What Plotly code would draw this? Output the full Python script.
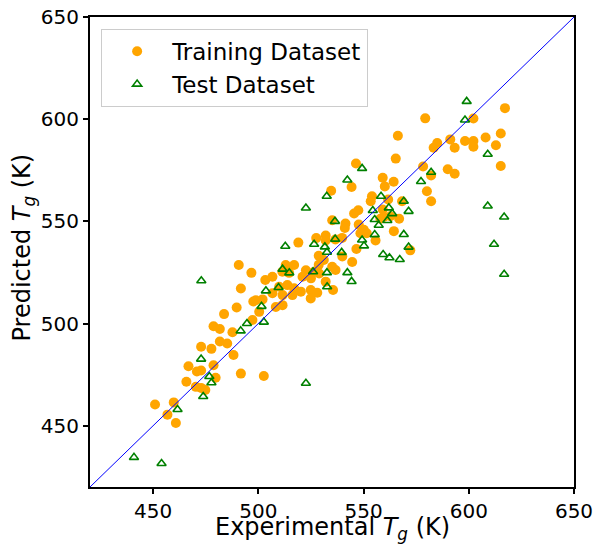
import plotly.graph_objects as go

# Glass transition temperatures (K): experimental vs. model prediction
train_exp = [
    489.7, 497.6, 483.7, 478.7, 481.7, 487.7, 472.8, 477.7, 481.7, 485.2,
    488.2, 478.7, 466.8, 470.8, 472.8, 491.7, 479.7, 465.8, 470.3, 472.8,
    474.8, 459.8, 450.9, 456.8, 460.8,
    527.5, 532.0, 532.0, 519.0, 548.5, 551.5, 555.7, 546.6, 539.9, 544.6,
    490.7, 496.7, 513.0, 517.0, 511.4, 514.6, 522.6, 526.5, 521.0, 525.0,
    528.9, 535.1, 536.7, 503.3, 506.7, 532.0, 509.9, 513.8, 517.0, 520.2,
    516.2, 524.9, 528.0, 524.9, 511.5, 506.7, 535.5, 491.7, 498.8, 502.0,
    508.3, 511.5, 500.4, 497.2, 502.6,
    566.3, 585.0, 583.3, 565.3, 546.4, 578.3, 590.0, 582.1, 559.1, 564.3,
    544.3, 560.1, 580.1, 534.6, 582.1, 554.0, 553.4, 561.7, 568.3, 547.5,
    545.5, 559.1, 559.6, 558.0, 562.7, 566.9, 535.1, 541.4, 541.1, 547.7,
    550.1, 564.4, 536.6, 539.8, 572.2, 528.7, 531.1, 528.7,
    617.2, 579.3, 602.2, 615.2, 608.0, 598.2, 602.2, 602.2, 612.9, 591.2,
    593.3, 615.2, 593.3,
]
train_pred = [
    507.8, 510.8, 504.6, 498.7, 497.3, 495.7, 488.6, 487.6, 491.2, 490.2,
    484.6, 479.6, 479.1, 476.5, 477.0, 475.5, 473.5, 471.5, 469.0, 468.5,
    467.5, 461.4, 460.4, 455.4, 451.3,
    541.8, 543.1, 540.6, 539.6, 544.2, 544.2, 540.6, 536.5, 532.8, 530.1,
    528.6, 524.8, 528.6, 528.6, 525.3, 524.8, 526.1, 525.3, 522.9, 522.1,
    524.5, 527.8, 526.2, 521.3, 522.9, 520.5, 518.0, 518.8, 517.2, 515.6,
    513.9, 516.4, 515.1, 512.3, 513.9, 514.8, 516.4, 517.1, 511.4, 511.8,
    508.1, 509.0, 505.7, 501.7, 474.3,
    591.9, 588.3, 586.0, 580.7, 578.3, 576.8, 575.5, 572.4, 571.3, 569.4,
    566.8, 567.1, 564.7, 565.0, 559.8, 562.3, 559.8, 560.7, 559.8, 555.4,
    553.8, 555.8, 552.2, 551.3, 552.5, 551.3, 550.5, 548.9, 546.8, 548.4,
    545.9, 545.2, 541.1, 541.9, 535.8, 533.2, 531.1, 528.7,
    605.4, 600.4, 600.3, 593.0, 591.0, 589.3, 589.3, 586.5, 587.2, 590.1,
    586.0, 577.1, 573.3,
]

test_exp = [
    494.6, 491.6, 472.8, 476.7, 477.7, 473.8, 461.6, 440.9, 454.0, 472.9,
    512.8, 526.5, 531.6, 532.6, 536.5, 539.6, 549.3, 550.2, 555.3, 511.5,
    514.7, 526.0, 532.6, 542.3, 544.3, 532.7, 509.6, 503.6, 501.5, 502.6,
    522.6, 549.3, 542.3, 577.3, 582.1, 532.5, 522.6, 558.3, 569.1, 571.4,
    554.4, 562.0, 563.6, 555.3, 557.2, 561.3, 536.4, 569.1, 571.4, 559.3,
    562.3, 567.2, 599.0, 598.2, 609.0, 609.0, 616.8, 612.0, 616.8,
]
test_pred = [
    500.0, 496.4, 482.6, 474.1, 471.0, 464.3, 457.9, 434.5, 431.5, 520.9,
    537.8, 538.8, 537.5, 534.9, 541.3, 534.8, 540.9, 538.0, 543.5, 526.6,
    524.8, 525.3, 524.9, 524.9, 520.6, 518.0, 517.6, 516.0, 508.4, 500.7,
    470.8, 575.9, 570.2, 569.5, 574.0, 562.3, 556.5, 562.3, 559.8, 554.9,
    555.3, 556.6, 553.8, 550.9, 548.1, 550.4, 550.0, 543.6, 537.4, 533.8,
    532.2, 531.3, 608.7, 599.6, 582.8, 557.5, 552.1, 538.8, 524.1,
]

axis_range = [420, 650]
tick_vals = [450, 500, 550, 600, 650]
x_title = "Experimental <i>T<sub>g</sub></i> (K)"
y_title = "Predicted <i>T<sub>g</sub></i> (K)"

FONT = "DejaVu Sans"

fig = go.Figure()

fig.add_trace(go.Scatter(
    x=train_exp, y=train_pred, mode="markers", name="Training Dataset",
    marker=dict(symbol="circle", size=10, color="#FFA500", line=dict(width=0)),
))
fig.add_trace(go.Scatter(
    x=test_exp, y=test_pred, mode="markers", name="Test Dataset",
    marker=dict(symbol="triangle-up-open", size=8, color="#008000",
                line=dict(width=1.6, color="#008000")),
))
# parity line y = x
fig.add_trace(go.Scatter(
    x=axis_range, y=axis_range, mode="lines", showlegend=False,
    line=dict(color="#0000FF", width=1), hoverinfo="skip",
))

axis_common = dict(
    range=axis_range, tickvals=tick_vals, showgrid=False, zeroline=False,
    showline=True, mirror=True, linecolor="black", linewidth=2,
    ticks="outside", ticklen=5, tickwidth=1.5, tickcolor="black",
    tickfont=dict(family=FONT, size=20, color="black"),
    automargin=False,
)
fig.update_xaxes(**axis_common)
fig.update_yaxes(**axis_common)

# axis titles placed as paper-anchored annotations for exact spacing
title_font = dict(family=FONT, size=24, color="black")
fig.add_annotation(
    text=x_title, xref="paper", yref="paper", x=0.5, y=-0.05,
    xanchor="center", yanchor="top", showarrow=False, font=title_font,
)
fig.add_annotation(
    text=y_title, xref="paper", yref="paper", x=-0.138, y=0.51,
    xanchor="center", yanchor="middle", textangle=-90, showarrow=False,
    font=title_font,
)

fig.update_layout(
    width=595, height=544,
    margin=dict(l=90, r=21, t=17, b=57),
    paper_bgcolor="white", plot_bgcolor="white",
    font=dict(family=FONT, color="black"),
    legend=dict(
        x=0.023, y=0.975, xanchor="left", yanchor="top",
        bgcolor="white", bordercolor="#cccccc", borderwidth=1,
        font=dict(family=FONT, size=23, color="black"),
        itemwidth=60,
    ),
)

fig.write_html("out.html")
